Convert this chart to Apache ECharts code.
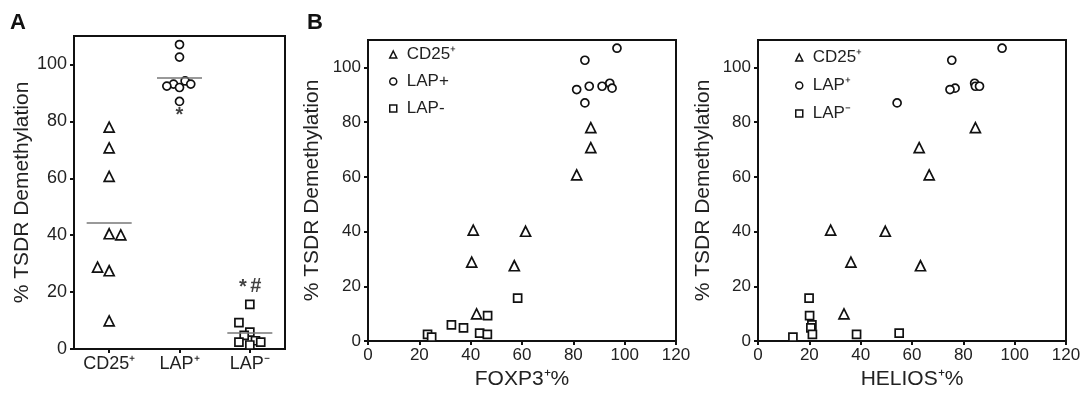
<!DOCTYPE html>
<html>
<head>
<meta charset="utf-8">
<script src="https://cdn.jsdelivr.net/npm/echarts@6/dist/echarts.min.js"></script>
<style>
  html, body {margin: 0; background: #fff;}
  #main {width: 1084px; height: 395px;}
</style>
</head>
<body>
<div id="main"></div>
<script>
// groups shown on panel A
const groups = ['CD25⁺', 'LAP⁺', 'LAP⁻'];
const yTicks = [0, 20, 40, 60, 80, 100];
const xTicks = [0, 20, 40, 60, 80, 100, 120];

// % TSDR demethylation, one value per sample
const tsdrCD25 = [78.0, 70.7, 60.7, 40.5, 40.1, 28.8, 27.5, 9.9];
const tsdrLAPpos = [107.0, 102.6, 94.2, 93.1, 93.1, 92.4, 91.9, 87.0];
const tsdrLAPneg = [15.7, 9.3, 5.9, 4.8, 2.9, 2.4, 2.4, 1.4];

// FOXP3+ % of the same samples
const foxp3CD25 = [86.8, 86.8, 81.3, 41.0, 61.4, 40.4, 57.0, 42.3];
const foxp3LAPpos = [97.0, 84.5, 94.2, 86.2, 91.2, 95.1, 81.3, 84.5];
const foxp3LAPneg = [58.3, 46.6, 32.5, 37.2, 43.5, 46.5, 23.2, 24.8];

// HELIOS+ % of the same samples
const heliosCD25 = [84.7, 62.8, 66.7, 28.3, 49.6, 36.2, 63.3, 33.5];
const heliosLAPpos = [95.1, 75.5, 84.4, 84.7, 86.3, 76.8, 74.8, 54.2];
const heliosLAPneg = [19.9, 20.1, 21.0, 20.6, 55.0, 38.4, 21.2, 13.6];

// horizontal spread of the dots in panel A (fraction of a category)
const jitterCD25 = [0, 0, 0, 0, 0.165, -0.165, 0, 0];
const jitterLAPpos = [0, 0, 0.08, -0.085, 0.16, -0.18, 0, 0];
const jitterLAPneg = [0, -0.155, 0, -0.08, 0.08, -0.155, 0.155, 0];

// significance marks on panel A: [group position, value, text]
const marks = [[1, 82, '*'], [1.9, 21.5, '*'], [2.085, 22, '#']];

const legendB = {bCD25: 'CD25⁺', bPos: 'LAP+', bNeg: 'LAP-'};
const legendC = {cCD25: 'CD25⁺', cPos: 'LAP⁺', cNeg: 'LAP⁻'};

const FONT = 'Liberation Sans, Arial, sans-serif';
const TEXT = '#222';
const INK = '#111';

const shapes = ['triangle', 'circle', 'rect'];
const sizes = [10, 8, 8];

const mean = arr => arr.reduce((a, b) => a + b, 0) / arr.length;

const dot = (name, shape, size, xi, yi, data) => ({
  name,
  type: 'scatter',
  xAxisIndex: xi,
  yAxisIndex: yi,
  symbol: shape,
  symbolSize: size,
  itemStyle: {color: '#fff', borderColor: INK, borderWidth: 1.7, opacity: 1},
  emphasis: {disabled: true},
  data
});

const yAxis = (gi, nameGap, fontSize) => ({
  type: 'value',
  gridIndex: gi,
  min: 0,
  max: 110,
  name: '% TSDR Demethylation',
  nameLocation: 'middle',
  nameGap,
  nameTextStyle: {color: TEXT, fontFamily: FONT, fontSize: 21},
  axisLine: {show: true, onZero: false, lineStyle: {color: INK, width: 2}},
  axisTick: {show: true, length: 4, customValues: yTicks, lineStyle: {color: INK, width: 2}},
  axisLabel: {customValues: yTicks, color: TEXT, fontFamily: FONT, fontSize, margin: 7},
  splitLine: {show: false}
});

const xAxis = (gi, name) => ({
  type: 'value',
  gridIndex: gi,
  min: 0,
  max: 120,
  interval: 20,
  name,
  nameLocation: 'middle',
  nameGap: 28,
  nameTextStyle: {color: TEXT, fontFamily: FONT, fontSize: 21},
  axisLine: {show: true, onZero: false, lineStyle: {color: INK, width: 2}},
  axisTick: {show: true, length: 4, customValues: xTicks, lineStyle: {color: INK, width: 2}},
  axisLabel: {customValues: xTicks, color: TEXT, fontFamily: FONT, fontSize: 17, margin: 6},
  splitLine: {show: false}
});

const tsdr = [tsdrCD25, tsdrLAPpos, tsdrLAPneg];
const jitter = [jitterCD25, jitterLAPpos, jitterLAPneg];
const foxp3 = [foxp3CD25, foxp3LAPpos, foxp3LAPneg];
const helios = [heliosCD25, heliosLAPpos, heliosLAPneg];

const seriesA = groups.map((g, gi) => {
  const m = mean(tsdr[gi]);
  return {
    ...dot('A' + gi, shapes[gi], sizes[gi], 0, 0,
      tsdr[gi].map((v, i) => [gi + jitter[gi][i], v])),
    markLine: {
      silent: true,
      symbol: 'none',
      label: {show: false},
      lineStyle: {color: '#777', width: 1.5, type: 'solid'},
      data: [[{coord: [gi - 0.32, m]}, {coord: [gi + 0.32, m]}]]
    }
  };
});

const seriesB = Object.keys(legendB).map((k, gi) =>
  dot(k, shapes[gi], sizes[gi], 1, 1, foxp3[gi].map((x, i) => [x, tsdr[gi][i]])));
const seriesC = Object.keys(legendC).map((k, gi) =>
  dot(k, shapes[gi], sizes[gi], 2, 2, helios[gi].map((x, i) => [x, tsdr[gi][i]])));

const legend = (names, left, top, gap) => ({
  data: Object.keys(names),
  orient: 'vertical',
  left,
  top,
  itemGap: gap,
  itemWidth: 7,
  itemHeight: 7,
  selectedMode: false,
  formatter: n => names[n],
  itemStyle: {color: '#fff', borderColor: INK, borderWidth: 1.5},
  textStyle: {color: TEXT, fontFamily: FONT, fontSize: 17, padding: [0, 0, 0, 5]}
});

const box = {show: true, borderColor: INK, borderWidth: 2, backgroundColor: 'transparent'};

const chart = echarts.init(document.getElementById('main'), null, {renderer: 'canvas'});
chart.setOption({
  animation: false,
  backgroundColor: '#fff',
  graphic: [
    {type: 'text', left: 10, top: 12, style: {text: 'A', font: 'bold 22px ' + FONT, fill: INK}},
    {type: 'text', left: 307, top: 12, style: {text: 'B', font: 'bold 22px ' + FONT, fill: INK}}
  ],
  legend: [legend(legendB, 384, 41, 10), legend(legendC, 790, 44, 11)],
  grid: [
    {left: 74, top: 36, width: 211, height: 313, ...box},
    {left: 368, top: 40, width: 308, height: 307, ...box},
    {left: 758, top: 40, width: 308, height: 306, ...box}
  ],
  xAxis: [
    {
      type: 'value',
      gridIndex: 0,
      min: -0.5,
      max: 2.5,
      axisLine: {show: true, onZero: false, lineStyle: {color: INK, width: 2}},
      axisTick: {show: true, length: 4, customValues: [0, 1, 2], lineStyle: {color: INK, width: 2}},
      axisLabel: {
        customValues: [0, 1, 2],
        formatter: v => groups[Math.round(v)],
        color: TEXT, fontFamily: FONT, fontSize: 18, margin: 6
      },
      splitLine: {show: false}
    },
    xAxis(1, 'FOXP3⁺%'),
    xAxis(2, 'HELIOS⁺%')
  ],
  yAxis: [yAxis(0, 40, 18), yAxis(1, 45, 17), yAxis(2, 44, 17)],
  series: [
    ...seriesA,
    {
      type: 'scatter',
      xAxisIndex: 0,
      yAxisIndex: 0,
      symbolSize: 1,
      itemStyle: {color: 'rgba(0,0,0,0)'},
      silent: true,
      label: {
        show: true,
        position: 'inside',
        formatter: p => p.data[2],
        color: INK,
        fontFamily: FONT,
        fontSize: 20,
        fontWeight: 'bold'
      },
      data: marks
    },
    ...seriesB,
    ...seriesC
  ]
});
</script>
</body>
</html>
